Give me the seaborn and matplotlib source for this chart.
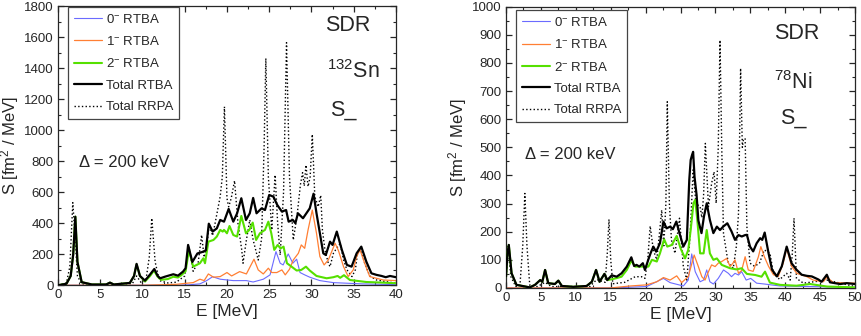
import numpy as np
import pandas as pd
import seaborn as sns
import matplotlib.pyplot as plt
from matplotlib.ticker import MultipleLocator

# ---- digitised strength functions, (E [MeV], S [fm^2/MeV]) ----
# 132Sn
sn_0m = [(0, 0), (14, 0), (15.5, 3), (16.8, 9), (17.6, 30), (18.3, 55), (19.2, 39), (20.75, 30), (22.3, 30),
         (23.1, 21), (24.3, 39), (25.1, 67), (25.8, 217), (26.3, 142), (26.65, 131), (27.25, 202), (27.8, 142),
         (28.25, 168), (28.65, 82), (29.2, 67), (29.8, 52), (31.0, 30), (32.6, 17), (36, 9), (40, 4)]
sn_1m = [(0, 0), (10, 0), (12, 3), (14, 6), (15.2, 13), (16.0, 17), (16.8, 39), (17.3, 30), (17.8, 73),
         (18.4, 52), (19.2, 56), (20.0, 82), (20.55, 60), (21.5, 88), (22.3, 73), (23.2, 168), (23.7, 99),
         (24.3, 73), (24.9, 110), (25.3, 82), (25.9, 82), (26.5, 99), (26.9, 67), (27.4, 103), (27.85, 163),
         (28.45, 206), (28.8, 260), (29.2, 238), (29.6, 357), (30.1, 485), (30.6, 335), (31.0, 185), (31.5, 131),
         (32.0, 163), (32.4, 217), (32.8, 271), (33.2, 223), (33.8, 120), (34.35, 56), (34.95, 99), (35.35, 185),
         (35.75, 228), (36.3, 142), (36.9, 56), (37.7, 45), (38.5, 34), (40, 30)]
sn_2m = [(0, 0), (1.0, 10), (1.5, 60), (1.8, 200), (2.05, 442), (2.3, 150), (2.8, 20), (4, 5), (5.7, 5),
         (6.15, 17), (6.6, 5), (8.5, 15), (9.0, 60), (9.3, 135), (9.7, 60), (10.3, 24), (10.9, 60), (11.36, 95),
         (11.8, 55), (12.2, 35), (13.0, 40), (13.65, 55), (14.2, 50), (14.6, 65), (15.1, 90), (15.5, 228),
         (16.0, 120), (16.8, 142), (17.2, 174), (17.4, 142), (17.8, 281), (18.4, 292), (18.8, 314), (19.2, 357),
         (19.5, 346), (19.65, 357), (20.0, 335), (20.3, 382), (20.75, 324), (21.2, 314), (21.7, 447),
         (22.25, 335), (22.65, 357), (23.05, 404), (23.45, 292), (23.9, 335), (24.5, 357), (24.9, 410),
         (25.25, 335), (25.6, 228), (26.0, 260), (26.35, 238), (26.7, 249), (27.1, 142), (27.65, 120),
         (28.25, 95), (28.8, 99), (29.35, 120), (29.8, 95), (30.6, 60), (31.8, 45), (32.6, 52), (33.1, 60),
         (33.4, 48), (33.85, 65), (34.55, 34), (36.5, 21), (38.5, 17), (40, 13)]
sn_rtba = [(0, 0), (1.0, 10), (1.5, 60), (1.8, 200), (2.05, 442), (2.3, 150), (2.8, 20), (4, 5), (5.7, 5),
           (6.15, 17), (6.6, 5), (8.5, 15), (9.0, 60), (9.3, 138), (9.7, 60), (10.3, 30), (10.9, 70),
           (11.4, 105), (11.8, 60), (12.1, 45), (12.7, 56), (13.65, 71), (14.2, 62), (14.8, 88), (15.1, 110),
           (15.4, 260), (15.9, 150), (16.5, 205), (17.1, 215), (17.5, 225), (17.85, 397), (18.3, 346),
           (18.8, 367), (19.2, 421), (19.65, 410), (20.2, 492), (20.75, 410), (21.2, 464), (21.7, 561),
           (22.25, 421), (22.7, 464), (23.1, 563), (23.5, 464), (24.1, 496), (24.5, 485), (25.0, 582),
           (25.5, 571), (25.95, 518), (26.5, 475), (27.0, 485), (27.3, 410), (27.8, 421), (28.1, 400),
           (28.4, 464), (29.0, 432), (29.4, 464), (29.8, 496), (30.25, 590), (30.6, 464), (31.0, 335),
           (31.4, 206), (31.7, 195), (32.2, 281), (32.5, 260), (33.0, 346), (33.6, 228), (34.2, 131),
           (34.75, 120), (35.35, 206), (35.9, 249), (36.5, 152), (37.1, 77), (37.7, 67), (38.3, 60),
           (38.8, 52), (39.3, 60), (40, 52)]
sn_rrpa = [(0, 0), (1.0, 15), (1.4, 120), (1.75, 533), (2.0, 330), (2.3, 60), (2.8, 8), (4, 3), (5.8, 5),
           (6.1, 15), (6.5, 3), (8.8, 10), (9.3, 60), (9.8, 20), (10.4, 30), (10.8, 180), (11.1, 432),
           (11.5, 150), (12.0, 30), (13.0, 15), (14.0, 20), (15.0, 60), (15.5, 250), (16.0, 90), (16.6, 150),
           (17.0, 324), (17.3, 180), (17.6, 250), (17.9, 390), (18.3, 320), (18.6, 401), (19.2, 573),
           (19.45, 700), (19.7, 1151), (20.0, 560), (20.2, 506), (20.5, 560), (20.9, 674), (21.3, 400),
           (21.75, 227), (21.9, 142), (22.3, 292), (22.7, 421), (23.1, 292), (23.7, 163), (24.1, 300),
           (24.4, 900), (24.6, 1463), (24.9, 700), (25.3, 356), (25.7, 711), (26.0, 400), (26.3, 195),
           (26.7, 600), (27.05, 1564), (27.4, 700), (27.85, 292), (28.3, 450), (28.7, 650), (28.95, 726),
           (29.15, 640), (29.35, 775), (29.6, 636), (29.85, 700), (30.1, 973), (30.4, 571), (30.8, 506),
           (31.1, 580), (31.3, 356), (31.6, 227), (32.0, 142), (32.2, 120), (32.6, 206), (33.0, 240),
           (33.4, 270), (33.8, 163), (34.2, 100), (34.8, 56), (35.2, 100), (35.5, 227), (35.9, 227),
           (36.3, 142), (36.9, 60), (37.7, 34), (38.9, 23), (40, 13)]

# 78Ni
ni_0m = [(0, 0), (15, 0), (20.15, 5), (22.55, 34), (23.5, 19), (25.4, 7), (26.1, 28), (26.6, 121), (27.1, 58),
         (27.8, 22), (28.3, 28), (28.75, 64), (29.2, 22), (29.7, 14), (30.4, 34), (31.15, 64), (31.85, 52),
         (32.3, 40), (32.8, 52), (33.3, 46), (33.75, 58), (34.4, 28), (35.05, 34), (35.9, 17), (37, 14),
         (39.25, 7), (50, 2)]
ni_1m = [(0, 0), (15, 0), (17.8, 7), (20.15, 11), (21.6, 22), (22.55, 37), (23.5, 28), (24.45, 43),
         (25.15, 19), (26.1, 40), (26.95, 117), (27.55, 76), (28.05, 40), (28.5, 28), (29.0, 58), (29.45, 82),
         (29.95, 76), (30.4, 88), (30.9, 94), (31.6, 105), (32.1, 76), (32.5, 88), (32.8, 100), (33.3, 52),
         (33.75, 62), (34.25, 111), (34.7, 64), (35.4, 59), (36.15, 111), (36.5, 147), (37.0, 111),
         (37.6, 77), (38.3, 47), (39.0, 41), (39.7, 88), (40.2, 141), (40.9, 77), (41.65, 52), (43.1, 40),
         (44.0, 28), (45.45, 22), (45.95, 38), (46.9, 19), (50, 17)]
ni_2m = [(0, 40), (0.2, 120), (0.4, 153), (0.8, 52), (1.5, 11), (3.4, 2), (4.15, 11), (4.9, 28), (5.2, 22),
         (5.6, 64), (6.05, 17), (7.0, 14), (7.5, 26), (8.0, 7), (9.65, 4), (11.55, 7), (12.3, 22), (12.9, 64),
         (13.4, 22), (14.1, 50), (14.5, 28), (15.15, 31), (15.85, 35), (16.55, 40), (17.3, 64), (17.95, 97),
         (18.5, 76), (19.7, 76), (20.4, 76), (20.9, 100), (21.6, 94), (22.05, 123), (22.65, 173), (23.1, 147),
         (23.75, 153), (24.45, 185), (25.0, 141), (25.65, 105), (26.1, 135), (26.45, 206), (26.85, 301),
         (27.1, 313), (27.4, 242), (27.8, 123), (28.3, 123), (28.75, 206), (29.2, 123), (29.7, 100),
         (30.2, 105), (30.9, 82), (32.1, 70), (33.0, 66), (33.75, 70), (34.5, 50), (35.7, 46), (36.6, 40),
         (37.1, 58), (37.8, 19), (39.25, 11), (41.6, 8), (43.55, 14), (46, 5), (50, 2)]
ni_rtba = [(0, 40), (0.2, 120), (0.4, 153), (0.8, 52), (1.5, 11), (3.4, 2), (4.15, 11), (4.9, 28), (5.2, 22),
           (5.6, 64), (6.05, 17), (7.0, 14), (7.5, 26), (8.0, 7), (9.65, 4), (11.55, 7), (12.3, 22), (12.9, 64),
           (13.4, 22), (14.1, 50), (14.5, 28), (15.15, 45), (15.85, 40), (16.55, 52), (17.3, 76), (17.95, 109),
           (18.35, 78), (18.7, 82), (19.1, 76), (19.6, 88), (19.9, 64), (20.4, 102), (20.7, 123), (21.1, 147),
           (21.5, 129), (22.05, 159), (22.55, 236), (23.0, 212), (23.5, 218), (23.9, 209), (24.4, 236),
           (24.9, 190), (25.4, 147), (25.9, 171), (26.25, 384), (26.45, 455), (26.65, 473), (26.8, 484),
           (27.0, 396), (27.3, 330), (27.55, 240), (28.0, 195), (28.35, 254), (28.75, 301), (29.2, 242),
           (29.7, 195), (30.2, 218), (30.65, 206), (31.1, 218), (31.7, 230), (32.3, 201), (32.8, 171),
           (33.3, 188), (33.77, 183), (34.25, 188), (34.5, 189), (34.95, 147), (35.4, 130), (35.9, 159),
           (36.4, 177), (36.7, 171), (37.05, 197), (37.6, 124), (38.1, 65), (38.8, 41), (39.5, 77), (40.2, 147),
           (40.9, 88), (41.6, 65), (42.35, 47), (43.1, 43), (43.8, 41), (44.75, 30), (45.2, 22), (45.95, 47),
           (46.4, 20), (47.85, 14), (48.8, 17), (50, 14)]
ni_rrpa = [(0, 30), (0.3, 140), (0.7, 40), (1.4, 5), (2.0, 10), (2.4, 150), (2.7, 336), (3.0, 150), (3.4, 10),
           (4.5, 5), (5.6, 20), (6.5, 5), (12.0, 5), (13.0, 30), (14.2, 20), (14.5, 120), (14.75, 244),
           (15.0, 100), (15.3, 15), (17.0, 20), (18.5, 40), (19.4, 40), (19.9, 34), (20.3, 100), (20.65, 220),
           (21.1, 135), (21.6, 100), (22.0, 200), (22.3, 277), (22.6, 150), (22.9, 300), (23.1, 662),
           (23.4, 300), (23.7, 170), (24.2, 123), (24.5, 180), (24.85, 248), (25.4, 76), (25.9, 28),
           (26.4, 200), (26.8, 420), (27.2, 300), (27.8, 289), (28.05, 250), (28.3, 330), (28.55, 514),
           (29.0, 289), (29.45, 372), (29.8, 413), (30.1, 301), (30.4, 500), (30.65, 881), (30.9, 500),
           (31.15, 194), (31.6, 123), (31.85, 88), (32.55, 70), (33.0, 150), (33.3, 265), (33.6, 781),
           (33.85, 500), (34.0, 526), (34.25, 532), (34.5, 218), (34.95, 88), (35.6, 77), (36.3, 88),
           (37.0, 135), (37.8, 124), (38.3, 53), (39.2, 30), (40.2, 52), (40.7, 28), (41.0, 120), (41.25, 248),
           (41.6, 34), (42.6, 17), (45.95, 28), (50, 5)]

labels = [r'0$^{-}$ RTBA', r'1$^{-}$ RTBA', r'2$^{-}$ RTBA', 'Total RTBA', 'Total RRPA']
colors = ['#6b6bff', '#ff7f33', '#55e000', 'black', 'black']
widths = [0.8, 0.9, 1.5, 1.6, 1.0]
styles = ['-', '-', '-', '-', ':']

sns.set_style('ticks')
plt.rcParams['font.family'] = ['Liberation Sans', 'DejaVu Sans']
plt.rcParams['mathtext.fontset'] = 'custom'
plt.rcParams['mathtext.rm'] = 'Liberation Sans'
plt.rcParams['mathtext.it'] = 'Liberation Sans:italic'

fig = plt.figure(figsize=(8.62, 3.36), dpi=100)
ax1 = fig.add_axes([0.0673, 0.151, 0.392, 0.831])
ax2 = fig.add_axes([0.587, 0.143, 0.405, 0.837])

panels = [
    (ax1, [sn_0m, sn_1m, sn_2m, sn_rtba, sn_rrpa], 40, 1800, 200, r'$^{132}$Sn',
     dict(sdr=(0.858, 0.932), nuc=(0.873, 0.764), sm=(0.843, 0.628), delta=(0.062, 0.438), leg=(0.03, 0.997))),
    (ax2, [ni_0m, ni_1m, ni_2m, ni_rtba, ni_rrpa], 50, 1000, 100, r'$^{78}$Ni',
     dict(sdr=(0.834, 0.906), nuc=(0.822, 0.732), sm=(0.822, 0.604), delta=(0.054, 0.476), leg=(0.029, 0.988))),
]

for ax, series, xmax, ymax, ymaj, nucleus, pos in panels:
    for i, s in enumerate(series):
        df = pd.DataFrame(s, columns=['E', 'S'])
        sns.lineplot(data=df, x='E', y='S', ax=ax, color=colors[i], lw=widths[i],
                     linestyle=styles[i], label=labels[i], zorder=[2, 2, 3, 4, 1][i])
    ax.set_xlim(0, xmax)
    ax.set_ylim(0, ymax)
    ax.xaxis.set_major_locator(MultipleLocator(5))
    ax.xaxis.set_minor_locator(MultipleLocator(2.5))
    ax.yaxis.set_major_locator(MultipleLocator(ymaj))
    ax.yaxis.set_minor_locator(MultipleLocator(ymaj / 2))
    ax.tick_params(which='both', direction='in', top=True, right=True, labelsize=9.5, pad=3)
    ax.tick_params(which='major', length=4, width=0.9)
    ax.tick_params(which='minor', length=2.2, width=0.8)
    for sp in ax.spines.values():
        sp.set_linewidth(0.9)
    ax.set_xlabel('E [MeV]', fontsize=12.5, labelpad=2)
    ax.set_ylabel(r'S [fm$^2$ / MeV]', fontsize=12, labelpad=2)

    ax.text(*pos['sdr'], 'SDR', transform=ax.transAxes, ha='center', va='center', fontsize=15.5)
    ax.text(*pos['nuc'], nucleus, transform=ax.transAxes, ha='center', va='center', fontsize=15.5)
    ax.text(*pos['sm'], 'S_', transform=ax.transAxes, ha='center', va='center', fontsize=15.5)
    ax.text(*pos['delta'], '\u0394 = 200 keV', transform=ax.transAxes, ha='left', va='center', fontsize=12)

    leg = ax.legend(loc='upper left', bbox_to_anchor=pos['leg'], borderaxespad=0, fontsize=9.5,
                    frameon=True, fancybox=False, framealpha=1, edgecolor='#444444',
                    handlelength=2.1, handletextpad=0.3, labelspacing=0.7, borderpad=0.45)
    leg.get_frame().set_linewidth(0.9)

fig.savefig('out.png', dpi=100)
